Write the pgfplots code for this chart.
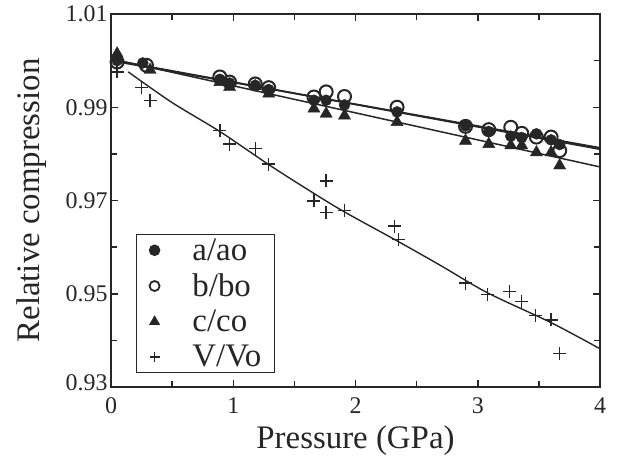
\documentclass[border=0pt]{standalone}
\usepackage{fontspec}
\setmainfont{Liberation Serif}
\usepackage{pgfplots}
\pgfplotsset{compat=1.18}
\definecolor{ink}{gray}{0.15}

\begin{document}
\begin{tikzpicture}
\useasboundingbox (-111bp,-71bp) rectangle (506bp,387bp);
\begin{axis}[
  at={(0,0)}, anchor=south west, scale only axis,
  width=489bp, height=373bp,
  xmin=0, xmax=4, ymin=0.93, ymax=1.01,
  xtick={0,1,2,3,4}, minor xtick={0.5,1.5,2.5,3.5},
  ytick={0.93,0.95,0.97,0.99,1.01},
  yticklabels={\raisebox{8bp}{0.93},0.95,0.97,0.99,1.01},
  minor ytick={0.94,0.96,0.98,1.00},
  tick align=inside,
  major tick length=7bp, minor tick length=6bp,
  tick style={ink, line width=1.5bp},
  axis line style={ink, line width=2bp},
  /pgf/number format/assume math mode=true,
  tick label style={font=\fontsize{24}{28}\selectfont, color=ink},
  xticklabel style={yshift=-7bp},
  label style={font=\fontsize{33}{38}\selectfont, color=ink},
  xlabel={Pressure (GPa)},
  ylabel={Relative compression},
  xlabel shift=5bp,
  ylabel shift=12bp,
  legend image code/.code={%
    \path (-6bp,0bp) (35bp,0bp);
    \draw[#1, mark size=5bp] plot coordinates {(0bp,0bp)};},
  legend style={at={(0.051,0.037)}, anchor=south west, draw=ink,
    line width=1.5bp, font=\fontsize{33}{38}\selectfont, text=ink,
    inner xsep=11bp, inner ysep=2bp, row sep=8bp},
  legend cell align=left,
]
% fitted lines
\addplot[ink, line width=1.7bp, forget plot] coordinates {(0,1.0002) (4,0.9810)};
\addplot[ink, line width=1.7bp, forget plot] coordinates {(0,1.0000) (4,0.9813)};
\addplot[ink, line width=1.5bp, forget plot] coordinates {(0,1.0004) (4,0.9772)};
\addplot[ink, line width=1.4bp, smooth, forget plot] coordinates {
  (0.14,0.9976) (0.5,0.9910) (0.89,0.9848) (1.29,0.9777) (1.6,0.9725)
  (1.9,0.9677) (2.35,0.9612) (2.7,0.9560) (3.08,0.9502) (3.6,0.9438) (4.0,0.9382)};

% c/co
\addplot[only marks, mark=triangle*, mark size=7bp, ink, forget plot] coordinates {
  (0.05,1.0015) (0.32,0.9980) (0.89,0.9954) (0.97,0.9943) (1.18,0.9945)
  (1.29,0.9929) (1.66,0.9897) (1.76,0.9886) (1.91,0.9882) (2.34,0.9868)
  (2.90,0.9828) (3.09,0.9821) (3.27,0.9818) (3.36,0.9818) (3.48,0.9803)
  (3.60,0.9803) (3.67,0.9775)};
% b/bo
\addplot[only marks, mark=o, mark size=6.5bp, ink, line width=2bp,
  mark options={fill=white}, forget plot] coordinates {
  (0.05,0.9997) (0.29,0.9990) (0.89,0.9965) (0.97,0.9954) (1.18,0.9950)
  (1.29,0.9942) (1.66,0.9922) (1.76,0.9933) (1.91,0.9923) (2.34,0.9900)
  (2.90,0.9859) (3.09,0.9852) (3.27,0.9857) (3.36,0.9844) (3.48,0.9836)
  (3.60,0.9836) (3.67,0.9807)};
% a/ao
\addplot[only marks, mark=*, mark size=5.5bp, ink, forget plot] coordinates {
  (0.05,1.0000) (0.26,0.9995) (0.89,0.9960) (0.97,0.9952) (1.18,0.9947)
  (1.29,0.9938) (1.66,0.9915) (1.76,0.9915) (1.91,0.9905) (2.34,0.9890)
  (2.90,0.9860) (3.09,0.9848) (3.27,0.9838) (3.36,0.9835) (3.48,0.9843)
  (3.60,0.9830) (3.67,0.9820)};
% V/Vo
\addplot[only marks, mark=+, mark size=6.5bp, ink, line width=1.4bp, forget plot] coordinates {
  (0.05,0.9976) (0.25,0.9943) (0.32,0.9915) (0.89,0.9850) (0.97,0.9821)
  (1.18,0.9811) (1.29,0.9778) (1.66,0.9699) (1.76,0.9742) (1.76,0.9674)
  (1.91,0.9678) (2.32,0.9645) (2.35,0.9617) (2.90,0.9523) (3.08,0.9499)
  (3.26,0.9505) (3.36,0.9484) (3.47,0.9453) (3.60,0.9444) (3.67,0.9372)};

% legend entries
\addlegendimage{only marks, mark=*, ink}
\addlegendentry{a/ao}
\addlegendimage{only marks, mark=o, ink, line width=1.8bp}
\addlegendentry{b/bo}
\addlegendimage{only marks, mark=triangle*, ink}
\addlegendentry{c/co}
\addlegendimage{only marks, mark=+, ink, line width=1.4bp}
\addlegendentry{V/Vo}
\end{axis}
\end{tikzpicture}
\end{document}
